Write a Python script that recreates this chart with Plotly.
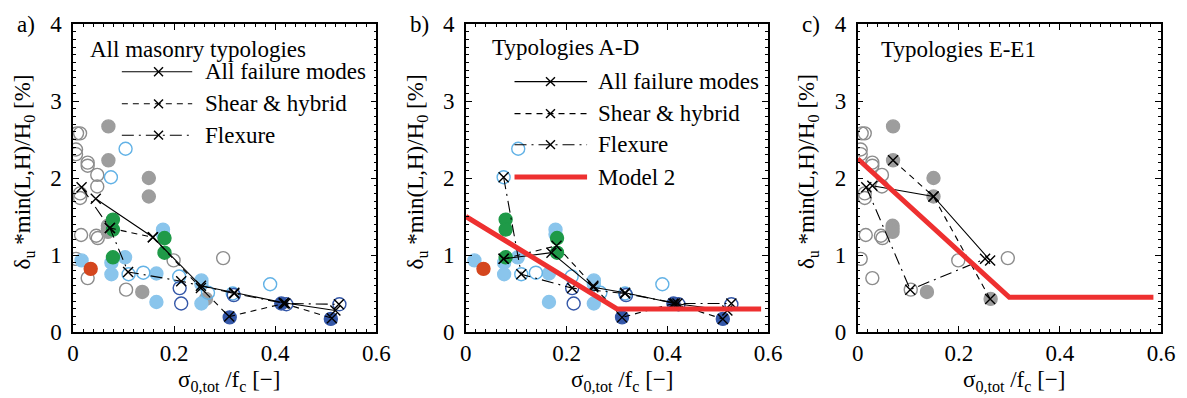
import plotly.graph_objects as go

FONT = "'Liberation Serif', 'Times New Roman', serif"
FS = 23

# ---------------- data : typologies A-D ----------------
lbf_x = [0.017, 0.076, 0.076, 0.103, 0.165, 0.165, 0.178, 0.178, 0.254, 0.254, 0.254]
lbf_y = [0.93, 0.90, 0.75, 0.97, 0.76, 0.39, 1.33, 1.27, 0.67, 0.62, 0.37]
lbo_x = [0.075, 0.104, 0.110, 0.139, 0.210, 0.267, 0.316, 0.390]
lbo_y = [2.01, 2.38, 0.75, 0.77, 0.72, 0.51, 0.50, 0.62]
dbo_x = [0.211, 0.214, 0.318, 0.422, 0.527]
dbo_y = [0.57, 0.37, 0.48, 0.36, 0.36]
dbf_x = [0.310, 0.412, 0.510]
dbf_y = [0.19, 0.37, 0.17]
grn_x = [0.079, 0.079, 0.079, 0.181, 0.181]
grn_y = [1.46, 1.33, 0.97, 1.22, 1.03]
red_x = [0.035]
red_y = [0.82]

# ---------------- data : typologies E-E1 ----------------
gro_x = [0.008, 0.014, 0.006, 0.006, 0.029, 0.029, 0.048, 0.048, 0.014, 0.014,
         0.016, 0.046, 0.049, 0.006, 0.029, 0.105, 0.199, 0.297]
gro_y = [2.58, 2.58, 2.37, 2.31, 2.20, 2.16, 2.04, 1.89, 1.80, 1.74,
         1.26, 1.25, 1.22, 0.95, 0.70, 0.55, 0.93, 0.96]
grf_x = [0.070, 0.070, 0.150, 0.150, 0.069, 0.069, 0.069, 0.137, 0.263]
grf_y = [2.67, 2.23, 2.00, 1.76, 1.38, 1.34, 1.30, 0.52, 0.43]

# ---------------- binned mean lines ----------------
all_a_x = [0.045, 0.158, 0.253, 0.319, 0.417, 0.519]
all_a_y = [1.73, 1.23, 0.60, 0.51, 0.38, 0.28]
shr_a_x = [0.073, 0.158, 0.253, 0.309, 0.417, 0.512]
shr_a_y = [1.35, 1.23, 0.57, 0.20, 0.37, 0.18]
flx_a_x = [0.017, 0.073, 0.109, 0.214, 0.319, 0.420, 0.526]
flx_a_y = [1.88, 1.35, 0.78, 0.66, 0.50, 0.37, 0.36]

all_b_x = [0.075, 0.170, 0.253, 0.316, 0.415, 0.519]
all_b_y = [0.95, 1.03, 0.58, 0.51, 0.37, 0.28]
shr_b_x = [0.075, 0.180, 0.253, 0.310, 0.412, 0.510]
shr_b_y = [0.95, 1.12, 0.60, 0.19, 0.37, 0.17]
flx_b_x = [0.075, 0.110, 0.211, 0.316, 0.420, 0.527]
flx_b_y = [2.01, 0.75, 0.57, 0.50, 0.37, 0.37]

all_c_x = [0.029, 0.150, 0.262]
all_c_y = [1.90, 1.76, 0.93]
shr_c_x = [0.070, 0.150, 0.262]
shr_c_y = [2.23, 1.76, 0.43]
flx_c_x = [0.017, 0.104, 0.252]
flx_c_y = [1.88, 0.55, 0.95]

# ---------------- Model 2 ----------------
mod_b_x = [0.0, 0.30, 0.586]
mod_b_y = [1.50, 0.30, 0.30]
mod_c_x = [0.0, 0.30, 0.585]
mod_c_y = [2.25, 0.45, 0.45]

x_ticks = [0, 0.2, 0.4, 0.6]
y_ticks = [0, 1, 2, 3, 4]

C_GRO = "#8c8c8c"
C_GRF = "#9d9d9d"
C_LBF = "#8ac5ec"
C_LBO = "#62b2e6"
C_DB = "#3457a8"
C_GRN = "#1f9a48"
C_RED = "#d4461e"
C_MOD = "#ee3030"

DASH_SHR = "6px,5px"
DASH_FLX = "12px,5px,2px,5px"

fig = go.Figure()
MS = 13


def circles(xs, ys, xa, ya, fill, line, open_=False):
    fig.add_trace(go.Scatter(
        x=xs, y=ys, xaxis=xa, yaxis=ya, mode="markers", showlegend=False,
        marker=dict(symbol="circle-open" if open_ else "circle", size=MS,
                    color=line if open_ else fill,
                    line=dict(width=1.4, color=line))))


def meanline(xs, ys, xa, ya, dash):
    fig.add_trace(go.Scatter(
        x=xs, y=ys, xaxis=xa, yaxis=ya, mode="lines+markers", showlegend=False,
        line=dict(color="black", width=1.1, dash=dash),
        marker=dict(symbol="x-thin", size=10, line=dict(width=1.4, color="black"))))


def ad_points(xa, ya):
    circles(lbf_x, lbf_y, xa, ya, C_LBF, C_LBF)
    circles(lbo_x, lbo_y, xa, ya, None, C_LBO, True)
    circles(dbo_x, dbo_y, xa, ya, None, C_DB, True)
    circles(dbf_x, dbf_y, xa, ya, C_DB, C_DB)
    circles(grn_x, grn_y, xa, ya, C_GRN, C_GRN)
    circles(red_x, red_y, xa, ya, C_RED, C_RED)


def ee_points(xa, ya):
    circles(gro_x, gro_y, xa, ya, None, C_GRO, True)
    circles(grf_x, grf_y, xa, ya, C_GRF, C_GRF)


# panel a
ee_points("x", "y")
ad_points("x", "y")
meanline(flx_a_x, flx_a_y, "x", "y", DASH_FLX)
meanline(shr_a_x, shr_a_y, "x", "y", DASH_SHR)
meanline(all_a_x, all_a_y, "x", "y", "solid")

# panel b
ad_points("x2", "y2")
meanline(flx_b_x, flx_b_y, "x2", "y2", DASH_FLX)
meanline(shr_b_x, shr_b_y, "x2", "y2", DASH_SHR)
meanline(all_b_x, all_b_y, "x2", "y2", "solid")
fig.add_trace(go.Scatter(x=mod_b_x, y=mod_b_y, xaxis="x2", yaxis="y2", mode="lines",
                         showlegend=False, line=dict(color=C_MOD, width=5)))

# panel c
ee_points("x3", "y3")
meanline(flx_c_x, flx_c_y, "x3", "y3", DASH_FLX)
meanline(shr_c_x, shr_c_y, "x3", "y3", DASH_SHR)
meanline(all_c_x, all_c_y, "x3", "y3", "solid")
fig.add_trace(go.Scatter(x=mod_c_x, y=mod_c_y, xaxis="x3", yaxis="y3", mode="lines",
                         showlegend=False, line=dict(color=C_MOD, width=5)))

W, H = 1187, 398
ML, MR, MT, MB = 73, 20, 16, 66
PW = W - ML - MR
doms = [[0, 305 / PW], [395 / PW, 699 / PW], [789 / PW, 1.0]]
tickfont = dict(family=FONT, size=FS, color="black")


def xax(dom, anchor):
    return dict(domain=dom, anchor=anchor, range=[0, 0.6], tickvals=x_ticks,
                showline=True, linecolor="black", linewidth=1.5, mirror="ticks",
                ticks="inside", ticklen=6, tickwidth=1.2, tickcolor="black",
                showgrid=False, zeroline=False, tickfont=tickfont, ticklabelstandoff=0,
                minor=dict(ticks="inside", ticklen=3, dtick=0.02, tickcolor="black",
                           tickwidth=1, showgrid=False))


def yax(anchor):
    return dict(domain=[0, 1], anchor=anchor, range=[0, 4], tickvals=y_ticks,
                showline=True, linecolor="black", linewidth=1.5, mirror="ticks",
                ticks="inside", ticklen=6, tickwidth=1.2, tickcolor="black",
                showgrid=False, zeroline=False, tickfont=tickfont, ticklabelstandoff=5,
                minor=dict(ticks="inside", ticklen=3, dtick=0.1, tickcolor="black",
                           tickwidth=1, showgrid=False))


fig.update_layout(
    width=W, height=H, margin=dict(l=ML, r=MR, t=MT, b=MB, pad=0),
    paper_bgcolor="white", plot_bgcolor="white",
    font=dict(family=FONT, size=FS, color="black"),
    xaxis=xax(doms[0], "y"), yaxis=yax("x"),
    xaxis2=xax(doms[1], "y2"), yaxis2=yax("x2"),
    xaxis3=xax(doms[2], "y3"), yaxis3=yax("x3"),
)

annots = []
shapes = []
panels = [("x", "y", "a)", "All masonry typologies", 0.049, 0.918),
          ("x2", "y2", "b)", "Typologies A-D", 0.079, 0.924),
          ("x3", "y3", "c)", "Typologies E-E1", 0.069, 0.918)]
for xa, ya, lab, title, tx, ty in panels:
    xr, yr = xa + " domain", ya + " domain"
    annots.append(dict(text=lab, xref=xr, yref=yr, x=-0.154, y=1.0, showarrow=False,
                       xanchor="center", yanchor="middle", font=dict(size=FS)))
    annots.append(dict(text="δ<sub>u</sub> *min(L,H)/H<sub>0</sub> [%]", textangle=-90,
                       xref=xr, yref=yr, x=-0.163, y=0.52, showarrow=False,
                       xanchor="center", yanchor="middle", font=dict(size=FS)))
    annots.append(dict(text="σ<sub>0,tot</sub> /f<sub>c</sub> [−]", xref=xr, yref=yr,
                       x=0.515, y=-0.16, showarrow=False, xanchor="center",
                       yanchor="middle", font=dict(size=FS)))
    annots.append(dict(text=title, xref=xr, yref=yr, x=tx, y=ty, showarrow=False,
                       xanchor="left", yanchor="middle", font=dict(size=FS)))

# legend entries (a and b)
leg_rows = {
    "x": (0.161, 0.393, 0.282, 0.43, 305,
          [("All failure modes", "solid", 0.845), ("Shear & hybrid", "dash", 0.741),
           ("Flexure", "dashdot", 0.639)]),
    "x2": (0.161, 0.401, 0.280, 0.431, 304,
           [("All failure modes", "solid", 0.813), ("Shear & hybrid", "dash", 0.709),
            ("Flexure", "dashdot", 0.608), ("Model 2", "model", 0.503)]),
}
dmap = {"solid": "solid", "dash": DASH_SHR, "dashdot": DASH_FLX}
for xa, (x0, x1, xm, xt, pw, rows) in leg_rows.items():
    ya = "y" if xa == "x" else "y2"
    xr, yr = xa + " domain", ya + " domain"
    for text, sty, yy in rows:
        annots.append(dict(text=text, xref=xr, yref=yr, x=xt, y=yy, showarrow=False,
                           xanchor="left", yanchor="middle", font=dict(size=FS)))
        if sty == "model":
            shapes.append(dict(type="line", xref=xr, yref=yr, x0=x0, x1=x1, y0=yy, y1=yy,
                               line=dict(color=C_MOD, width=5)))
        else:
            shapes.append(dict(type="line", xref=xr, yref=yr, x0=x0, x1=x1, y0=yy, y1=yy,
                               line=dict(color="black", width=1.1, dash=dmap[sty])))
            dx, dy = 4.5 / pw, 4.5 / 316
            shapes.append(dict(type="line", xref=xr, yref=yr, x0=xm - dx, x1=xm + dx,
                               y0=yy - dy, y1=yy + dy, line=dict(color="black", width=1.4)))
            shapes.append(dict(type="line", xref=xr, yref=yr, x0=xm - dx, x1=xm + dx,
                               y0=yy + dy, y1=yy - dy, line=dict(color="black", width=1.4)))

fig.update_layout(annotations=annots, shapes=shapes)
fig.write_html("out.html", config={"displayModeBar": False})
